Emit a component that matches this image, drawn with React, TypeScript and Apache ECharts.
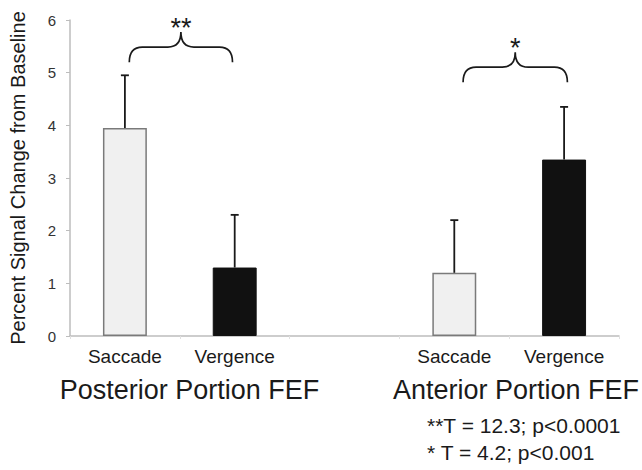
import React, { useEffect, useRef } from "react";
import * as echarts from "echarts";

// ---- data ----
const categories = ["Posterior Saccade", "Posterior Vergence", "", "Anterior Saccade", "Anterior Vergence"];
const conditionTypes = ["Saccade", "Vergence", "", "Saccade", "Vergence"];
const meanValues: (number | null)[] = [3.95, 1.3, null, 1.2, 3.35];
const errorValues: (number | null)[] = [1.0, 1.0, null, 1.0, 1.0];
const groupLabels = ["Posterior Portion FEF", "Anterior Portion FEF"];
const braceStartCats = [0, 3];
const braceStartOffsets = [0.04, 0.08];
const braceEndCats = [1, 4];
const braceEndOffsets = [-0.02, 0.03];
const braceBottoms = [5.2, 4.82];
const braceTips = [5.77, 5.39];
const braceMarks = ["**", "*"];
const statLines = ["**T = 12.3; p<0.0001", "* T = 4.2; p<0.001"];
const yMin = 0;
const yMax = 6;
const yInterval = 1;

const FONT = '"Liberation Sans", Arial, Helvetica, sans-serif';
const INK = "#1a1a1a";

export default function App() {
  const ref = useRef<HTMLDivElement>(null);

  useEffect(() => {
    document.body.style.margin = "0";
    const chart = echarts.init(ref.current!, undefined, { renderer: "svg" });

    const barData = meanValues.map((v, i) => {
      if (v == null) return "-";
      const light = conditionTypes[i] === "Saccade";
      return {
        value: v,
        itemStyle: light
          ? { color: "#f0f0f0", borderColor: "#7a7a7a", borderWidth: 1.5 }
          : { color: "#111111", borderColor: "#111111", borderWidth: 1 },
      };
    });

    const errData = meanValues
      .map((v, i) => (v == null ? null : [i, v, errorValues[i]]))
      .filter((d) => d != null);

    const braceData = braceStartCats.map((c, i) => [c, braceBottoms[i]]);

    const textStyle = (text: string, size: number, align: string) => ({
      text,
      fontSize: size,
      fontFamily: FONT,
      fill: INK,
      align,
      verticalAlign: "middle",
      textAlign: align,
      textVerticalAlign: "middle",
    });

    chart.setOption({
      animation: false,
      grid: { left: 68, right: 23, top: 20, bottom: 134, containLabel: false },
      xAxis: {
        type: "category",
        data: categories,
        axisLine: { lineStyle: { color: "#bdbdbd", width: 1.5 } },
        axisTick: { show: true, length: 3, lineStyle: { color: "#e0e0e0" } },
        axisLabel: {
          interval: 0,
          margin: 11,
          fontSize: 19,
          fontFamily: FONT,
          color: INK,
          formatter: (v: string) => {
            const parts = v.split(" ");
            return parts.length > 1 ? parts[1] : "";
          },
        },
        splitLine: { show: false },
      },
      yAxis: {
        type: "value",
        min: yMin,
        max: yMax,
        interval: yInterval,
        name: "Percent Signal Change from Baseline",
        nameLocation: "middle",
        nameGap: 42,
        nameTextStyle: { fontSize: 20, fontFamily: FONT, color: INK },
        axisLine: { show: true, lineStyle: { color: "#bdbdbd", width: 1.5 } },
        axisTick: { show: true, length: 4, lineStyle: { color: "#bdbdbd" } },
        axisLabel: { fontSize: 15, fontFamily: FONT, color: "#333", margin: 14 },
        splitLine: { show: false },
      },
      series: [
        {
          type: "bar",
          data: barData,
          barWidth: "40%",
          z: 2,
        },
        {
          type: "custom",
          z: 3,
          clip: false,
          encode: { x: 0, y: 1 },
          data: errData,
          renderItem: (params: any, api: any) => {
            const i = api.value(0);
            const v = api.value(1);
            const e = api.value(2);
            const base = api.coord([i, v]);
            const top = api.coord([i, v + e]);
            const cap = 4;
            const st = { stroke: INK, lineWidth: 1.8 };
            return {
              type: "group",
              children: [
                { type: "line", shape: { x1: base[0], y1: base[1], x2: top[0], y2: top[1] }, style: st },
                { type: "line", shape: { x1: top[0] - cap, y1: top[1], x2: top[0] + cap, y2: top[1] }, style: st },
              ],
            };
          },
        },
        {
          type: "custom",
          z: 4,
          clip: false,
          encode: { x: 0, y: 1 },
          data: braceData,
          renderItem: (params: any, api: any) => {
            const k = params.dataIndex;
            const band = api.size([1, 0])[0];
            const x1 = api.coord([braceStartCats[k], braceBottoms[k]])[0] + braceStartOffsets[k] * band;
            const x2 = api.coord([braceEndCats[k], braceBottoms[k]])[0] + braceEndOffsets[k] * band;
            const yb = api.coord([braceStartCats[k], braceBottoms[k]])[1];
            const yt = api.coord([braceStartCats[k], braceTips[k]])[1];
            const yf = (yb + yt) / 2;
            const xm = (x1 + x2) / 2;
            const d = 13;
            const path =
              `M${x1},${yb} Q${x1},${yf} ${x1 + d},${yf} L${xm - d},${yf} Q${xm},${yf} ${xm},${yt} ` +
              `Q${xm},${yf} ${xm + d},${yf} L${x2 - d},${yf} Q${x2},${yf} ${x2},${yb}`;
            return {
              type: "group",
              children: [
                {
                  type: "path",
                  shape: { pathData: path },
                  style: { fill: "none", stroke: INK, lineWidth: 1.7 },
                },
                {
                  type: "text",
                  x: xm,
                  y: yt - 4.5,
                  style: textStyle(braceMarks[k], 27, "center"),
                },
              ],
            };
          },
        },
      ],
      graphic: [
        { type: "text", x: 189.5, y: 390, style: textStyle(groupLabels[0], 27, "center") },
        { type: "text", x: 516, y: 390, style: textStyle(groupLabels[1], 27, "center") },
        { type: "text", x: 427, y: 425.5, style: textStyle(statLines[0], 21, "left") },
        { type: "text", x: 427, y: 452.5, style: textStyle(statLines[1], 21, "left") },
      ],
    });

    return () => chart.dispose();
  }, []);

  return <div ref={ref} style={{ width: 642, height: 470 }} />;
}
